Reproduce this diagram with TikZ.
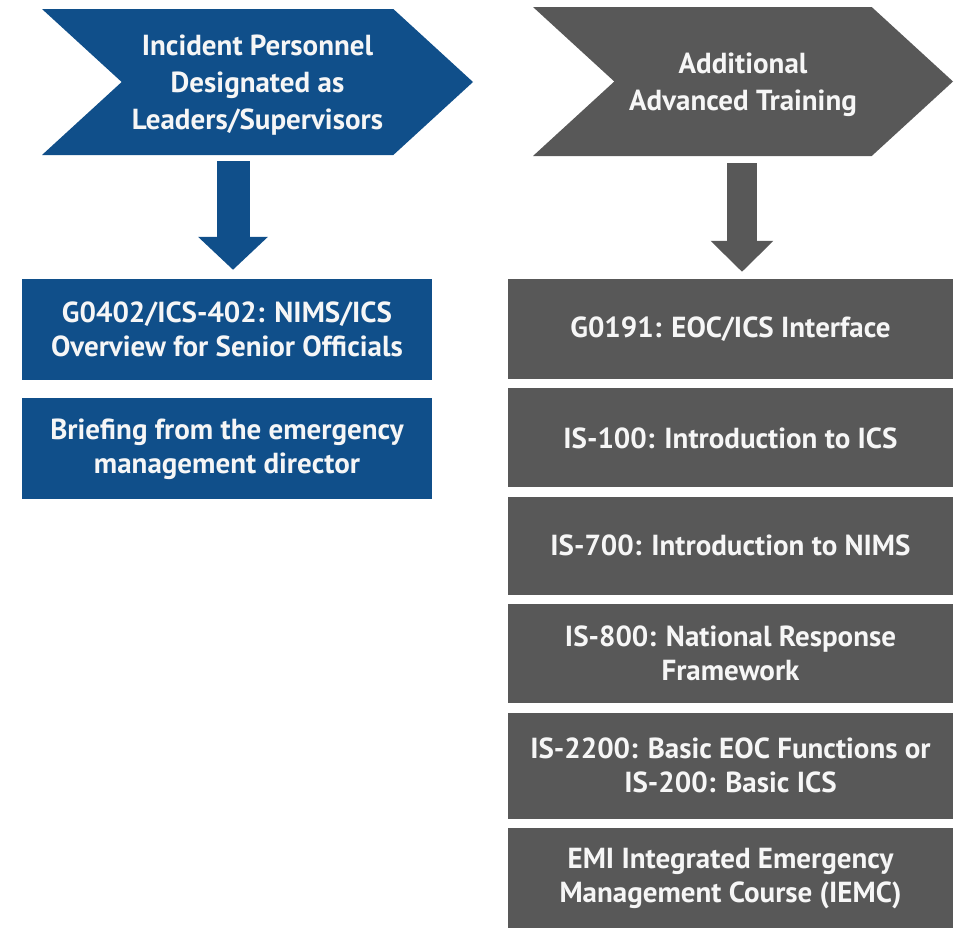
\documentclass[tikz,border=0pt]{standalone}
\usepackage{fontspec}
\setmainfont{PT Sans}
\usetikzlibrary{arrows.meta, positioning, shapes.symbols}

\definecolor{leadblue}{RGB}{16,79,138}
\definecolor{advgrey}{RGB}{88,88,88}
\definecolor{softwhite}{RGB}{246,246,246}

\tikzset{
	chevron/.style = {signal, signal from = west, signal to = east, signal pointer angle = 85,
		inner sep = 0pt, text depth = 0pt, text = softwhite, font = \bfseries\fontsize{29}{37}\selectfont, align = center},
	course/.style = {rectangle, inner sep = 0pt, text = softwhite, align = center,
		font = \bfseries\fontsize{29}{34}\selectfont},
	blockarrow/.style = {line width = #1}
}

\begin{document}
\begin{tikzpicture}[x = 1pt, y = -1pt]
	\useasboundingbox (0,0) rectangle (956,927);

	% left column
	\node [chevron, fill = leadblue, minimum width = 431pt, minimum height = 146pt] (leaders) at (257.5,82)
		{Incident Personnel\\Designated as\\Leaders/Supervisors};
	\node [course, fill = leadblue, minimum width = 410pt, minimum height = 101pt] (g402) at (227,329.5)
		{G0402/ICS-402: NIMS/ICS\\Overview for Senior Officials};
	\node [course, fill = leadblue, minimum width = 410pt, minimum height = 101pt, below = 18pt of g402] (briefing)
		{Briefing from the emergency\\management director};

	% right column
	\node [chevron, fill = advgrey, minimum width = 420pt, minimum height = 149pt] (advanced) at (743,81.5)
		{Additional\\Advanced Training};
	\node [course, fill = advgrey, minimum width = 445pt, minimum height = 100pt] (g191) at (730.5,329)
		{G0191: EOC/ICS Interface};
	\node [course, fill = advgrey, minimum width = 445pt, minimum height = 99pt, below = 9pt of g191] (is100)
		{IS-100: Introduction to ICS};
	\node [course, fill = advgrey, minimum width = 445pt, minimum height = 98pt, below = 9pt of is100] (is700)
		{IS-700: Introduction to NIMS};
	\node [course, fill = advgrey, minimum width = 445pt, minimum height = 99pt, below = 9pt of is700] (is800)
		{IS-800: National Response\\Framework};
	\node [course, fill = advgrey, minimum width = 445pt, minimum height = 106pt, below = 9pt of is800] (is2200)
		{IS-2200: Basic EOC Functions or\\IS-200: Basic ICS};
	\node [course, fill = advgrey, minimum width = 445pt, minimum height = 101pt, below = 9pt of is2200] (iemc)
		{EMI Integrated Emergency\\Management Course (IEMC)};

	% arrows
	\draw [leadblue, blockarrow = 33pt, -{Triangle[width = 68pt, length = 33pt]}, shorten < = 6pt, shorten > = 9pt]
		([xshift = 6pt]g402.north |- leaders.south) -- ([xshift = 6pt]g402.north);
	\draw [advgrey, blockarrow = 30pt, -{Triangle[width = 61pt, length = 31pt]}, shorten < = 7pt, shorten > = 7pt]
		([xshift = 11.5pt]g191.north |- advanced.south) -- ([xshift = 11.5pt]g191.north);
\end{tikzpicture}
\end{document}
